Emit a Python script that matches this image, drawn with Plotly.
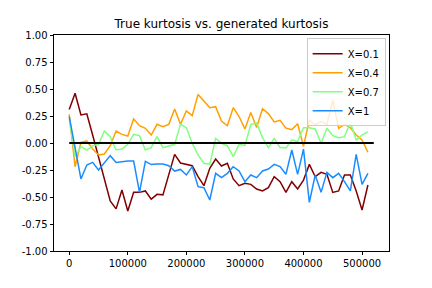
import plotly.graph_objects as go

step = 10000
n_points = 52
x_vals = [i * step for i in range(n_points)]

labels = ["X=0.1", "X=0.4", "X=0.7", "X=1"]

kurt_01 = [0.31, 0.46, 0.26, 0.27, 0.074, -0.13, -0.33, -0.537, -0.61, -0.435,
           -0.63, -0.457, -0.457, -0.444, -0.52, -0.475, -0.48, -0.29, -0.105, -0.185,
           -0.198, -0.21, -0.312, -0.395, -0.235, -0.148, -0.213, -0.188, -0.333, -0.395,
           -0.373, -0.383, -0.426, -0.444, -0.414, -0.312, -0.358, -0.457, -0.358, -0.426,
           -0.343, -0.198, -0.312, -0.272, -0.29, -0.457, -0.444, -0.296, -0.296, -0.444,
           -0.62, -0.389]

kurt_04 = [0.265, -0.22, 0.006, 0.019, -0.056, -0.111, -0.102, -0.025, 0.111, 0.08,
           0.065, 0.222, 0.16, 0.136, 0.074, 0.173, 0.15, 0.173, 0.315, 0.173,
           0.296, 0.253, 0.45, 0.389, 0.327, 0.336, 0.204, 0.16, 0.327, 0.245,
           0.13, 0.282, 0.143, 0.317, 0.272, 0.195, 0.21, 0.138, 0.124, 0.178,
           -0.03, 0.213, 0.167, 0.198, 0.173, 0.398, 0.136, 0.173, 0.142, 0.074,
           0.028, -0.086]

kurt_07 = [0.225, -0.127, -0.034, -0.065, -0.025, -0.012, 0.111, 0.059, -0.065, -0.056,
           -0.012, 0.08, 0.068, -0.065, -0.043, 0.059, -0.043, -0.028, -0.012, 0.173,
           0.142, -0.003, -0.11, -0.188, -0.198, 0.043, -0.003, -0.025, -0.127, -0.012,
           -0.022, 0.17, 0.185, 0.05, -0.042, 0.043, -0.042, -0.047, 0.03, 0.014,
           0.142, 0.142, 0.13, -0.003, 0.136, 0.068, 0.049, 0.059, 0.19, 0.028,
           0.074, 0.105]

kurt_1 = [0.244, -0.06, -0.333, -0.204, -0.179, -0.25, -0.18, -0.117, -0.18, -0.173,
          -0.167, -0.167, -0.457, -0.17, -0.2, -0.194, -0.194, -0.21, -0.26, -0.245,
          -0.296, -0.219, -0.404, -0.414, -0.528, -0.281, -0.321, -0.281, -0.219, -0.259,
          -0.358, -0.296, -0.321, -0.259, -0.241, -0.198, -0.219, -0.29, -0.065, -0.29,
          -0.056, -0.55, -0.296, -0.457, -0.272, -0.321, -0.281, -0.358, -0.444, -0.105,
          -0.383, -0.281]

series = [kurt_01, kurt_04, kurt_07, kurt_1]
colors = ["#800000", "#FFA000", "#80FF80", "#1A8CFF"]

baseline_x = [0, 520000]
baseline_y = [0, 0]

x_ticks = [0, 100000, 200000, 300000, 400000, 500000]
y_ticks = [-1.0, -0.75, -0.5, -0.25, 0.0, 0.25, 0.5, 0.75, 1.0]

fig = go.Figure()
for lab, ys, col in zip(labels, series, colors):
    fig.add_trace(go.Scatter(x=x_vals, y=ys, mode="lines", name=lab,
                             line=dict(color=col, width=1.5)))
fig.add_trace(go.Scatter(x=baseline_x, y=baseline_y, mode="lines", showlegend=False,
                         line=dict(color="black", width=2)))

axis_common = dict(showline=True, linecolor="black", linewidth=0.8, mirror=True,
                   ticks="outside", ticklen=3.5, tickwidth=0.8, tickcolor="black",
                   showgrid=False, zeroline=False,
                   tickfont=dict(family="DejaVu Sans", size=10, color="black"))

fig.update_layout(
    width=432, height=288,
    margin=dict(l=54, r=43, t=35, b=37),
    paper_bgcolor="white", plot_bgcolor="white",
    font=dict(family="DejaVu Sans", size=10, color="black"),
    title=dict(text="True kurtosis vs. generated kurtosis", x=0.5, xref="paper",
               xanchor="center", y=1 - 24 / 288, yref="container", yanchor="middle",
               font=dict(family="DejaVu Sans", size=12, color="black")),
    xaxis=dict(range=[-26000, 546000], tickvals=x_ticks,
               ticktext=[str(v) for v in x_ticks], **axis_common),
    yaxis=dict(range=[-1, 1], tickvals=y_ticks,
               ticktext=["%.2f" % v for v in y_ticks], **axis_common),
    legend=dict(x=0.99, y=0.985, xanchor="right", yanchor="top",
                bgcolor="rgba(255,255,255,0.8)", bordercolor="#cccccc", borderwidth=1,
                font=dict(family="DejaVu Sans", size=10, color="black"),
                itemwidth=30, tracegroupgap=0),
    showlegend=True,
)

fig.write_html("out.html", config={"displayModeBar": False},
               post_script="document.body.style.margin='0';")
